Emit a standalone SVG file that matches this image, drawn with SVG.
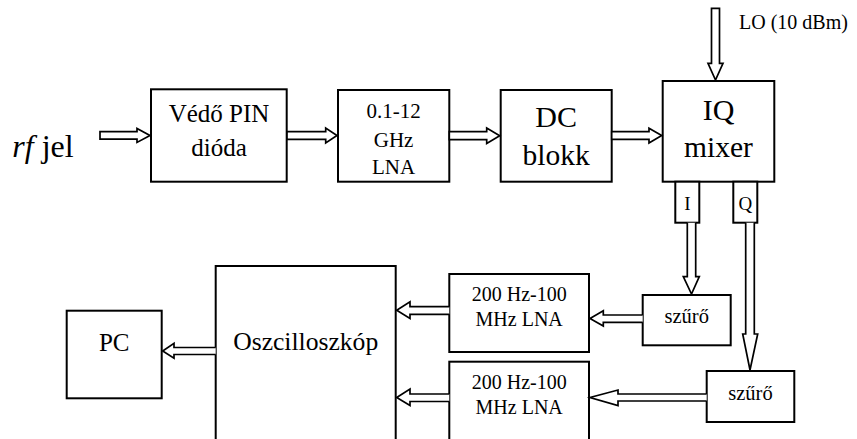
<svg xmlns="http://www.w3.org/2000/svg" width="857" height="439" viewBox="0 0 857 439" font-family="'Liberation Serif', 'DejaVu Serif', serif">
<style>
.box{fill:#fff;stroke:#000;stroke-width:2}
.arr{fill:#fff;stroke:#000;stroke-width:1.7;stroke-linejoin:miter}
.t{font-family:'Liberation Serif','DejaVu Serif',serif;fill:#000;text-anchor:middle}
</style>
<rect width="857" height="439" fill="#fff"/>
<g id="rf"><text class="t" x="43" y="157" font-size="32"><tspan font-style="italic">rf</tspan> jel</text></g>
<g id="lo-label"><text class="t" x="739" y="29" font-size="20" text-anchor="start" style="text-anchor:start">LO (10 dBm)</text></g>
<g id="vedo"><rect class="box" x="151" y="89.3" width="135.7" height="92.4"/><text class="t" x="219" y="121.5" font-size="25">Védő PIN</text><text class="t" x="219" y="156" font-size="25">dióda</text></g>
<g id="lna"><rect class="box" x="338" y="90" width="111.3" height="91.7"/><text class="t" x="393.6" y="118.3" font-size="21">0.1-12</text><text class="t" x="393.6" y="146.5" font-size="21">GHz</text><text class="t" x="393.6" y="174" font-size="21">LNA</text></g>
<g id="dc"><rect class="box" x="500.7" y="90" width="111" height="91.7"/><text class="t" x="556.2" y="126.7" font-size="30">DC</text><text class="t" x="556.2" y="165" font-size="29.5">blokk</text></g>
<g id="iq"><rect class="box" x="662.7" y="81" width="111.6" height="100.7"/><text class="t" x="718.5" y="120" font-size="30">IQ</text><text class="t" x="718.5" y="156.7" font-size="29.5">mixer</text></g>
<g id="i-port"><rect class="box" x="675.3" y="181.7" width="24" height="41"/><text class="t" x="687.3" y="209.5" font-size="19">I</text></g>
<g id="q-port"><rect class="box" x="733.3" y="181.7" width="24" height="41"/><text class="t" x="745.3" y="209.5" font-size="19">Q</text></g>
<g id="szuro1"><rect class="box" x="642.7" y="295" width="88" height="50.3"/><text class="t" x="686.7" y="323.3" font-size="20.5">szűrő</text></g>
<g id="szuro2"><rect class="box" x="706.7" y="371" width="87.6" height="51"/><text class="t" x="750.5" y="400" font-size="20.5">szűrő</text></g>
<g id="lna1"><rect class="box" x="449.3" y="274" width="139.7" height="78"/><text class="t" x="519.2" y="300.5" font-size="20">200 Hz-100</text><text class="t" x="519.2" y="325.7" font-size="20">MHz LNA</text></g>
<g id="lna2"><rect class="box" x="449.3" y="361.7" width="139.7" height="90"/><text class="t" x="519.2" y="389" font-size="20">200 Hz-100</text><text class="t" x="519.2" y="414" font-size="20">MHz LNA</text></g>
<g id="osc"><rect class="box" x="215.7" y="266" width="180" height="190"/><text class="t" x="305.7" y="350" font-size="25.6">Oszcilloszkóp</text></g>
<g id="pc"><rect class="box" x="66.7" y="310.7" width="95" height="87.6"/><text class="t" x="114.2" y="351" font-size="25">PC</text></g>
<g id="connectors">
<path class="arr" d="M100,131.7 H137 V128.4 L150,135.4 L137,142.4 V139.1 H100 Z"/>
<path class="arr" d="M287,131.7 H325.7 V128 L337,135.5 L325.7,143 V139.3 H287 Z"/>
<path class="arr" d="M449.3,131.7 H486.7 V128 L499.7,135.8 L486.7,143.4 V139.7 H449.3 Z"/>
<path class="arr" d="M611.7,131.7 H649 V128.3 L661.7,135.6 L649,143.1 V139.3 H611.7 Z"/>
<path class="arr" d="M711.5,8.3 V63.3 H708 L715.5,80 L723,63.3 H719.5 V8.3 Z"/>
<path class="arr" d="M687.3,222.7 V276.7 H683.3 L691.5,294 L699.3,276.7 H695.7 V222.7"/>
<path class="arr" d="M745.7,222.7 V334 H742.7 L750,370 L757.7,334 H754.3 V222.7"/>
<path class="arr" d="M642.7,315 H603.3 V310.7 L590,318.5 L603.3,326 V322.3 H642.7"/>
<path class="arr" d="M706.7,394 H618 V390 L590,397.5 L618,405.5 V401 H706.7"/>
<path class="arr" d="M449.3,306.7 H410 V301.7 L396.7,310.3 L410,318.5 V314.3 H449.3"/>
<path class="arr" d="M449.3,394 H410 V389 L396.7,397.5 L410,405.5 V401.5 H449.3"/>
<path class="arr" d="M215.7,347.5 H174 V343.3 L162.7,351 L174,358.3 V354.5 H215.7"/>
</g>
</svg>
